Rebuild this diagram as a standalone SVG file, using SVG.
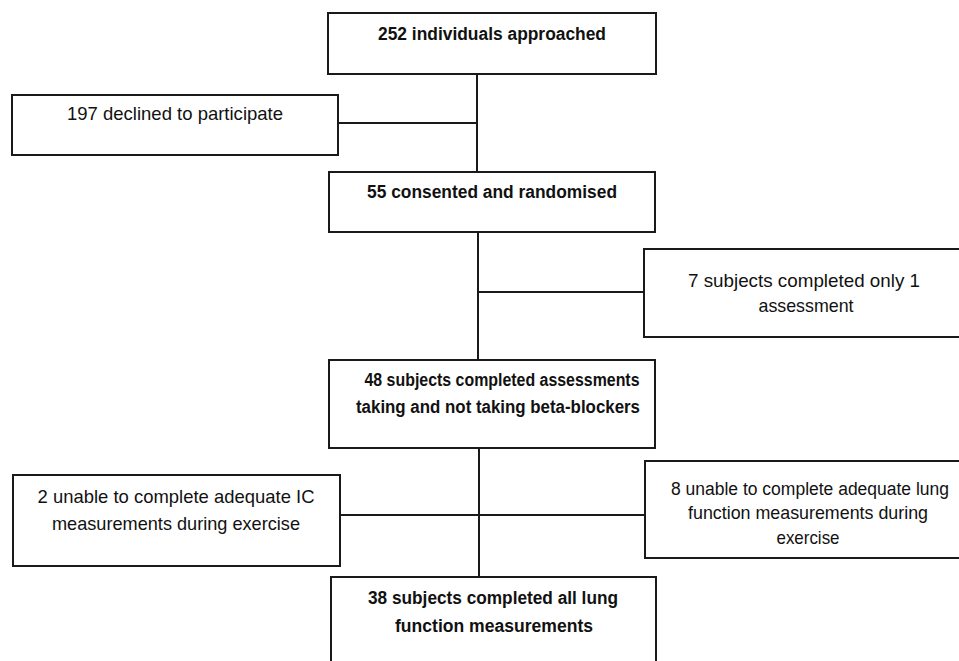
<svg xmlns="http://www.w3.org/2000/svg" width="959" height="661" viewBox="0 0 959 661">
<style>
.box{fill:#fff;stroke:#1a1a1a;stroke-width:2}
.ln{stroke:#1a1a1a;stroke-width:2;fill:none}
.b{font-family:"Liberation Sans",Arial,sans-serif;font-weight:bold;font-size:17.5px;fill:#111;text-anchor:middle}
.r{font-family:"Liberation Sans",Arial,sans-serif;font-size:19px;fill:#111;text-anchor:middle}
.r2{font-family:"Liberation Sans",Arial,sans-serif;font-size:17.6px;fill:#111;text-anchor:middle}
</style>
<rect width="959" height="661" fill="#fff"/>
<g id="connectors">
<path class="ln" d="M477 74V172"/>
<path class="ln" d="M338 123H477"/>
<path class="ln" d="M478 232V360"/>
<path class="ln" d="M478 292H644"/>
<path class="ln" d="M479 448V577"/>
<path class="ln" d="M340 515H645"/>
</g>
<g id="n1">
<rect class="box" x="328" y="13" width="328" height="61"/>
<text class="b" x="492" y="40" textLength="228" lengthAdjust="spacingAndGlyphs">252 individuals approached</text>
</g>
<g id="n2">
<rect class="box" x="12" y="95" width="326" height="60"/>
<text class="r" x="175" y="120" textLength="216" lengthAdjust="spacingAndGlyphs">197 declined to participate</text>
</g>
<g id="n3">
<rect class="box" x="329" y="172" width="326" height="60"/>
<text class="b" x="492" y="198" textLength="250" lengthAdjust="spacingAndGlyphs">55 consented and randomised</text>
</g>
<g id="n4">
<rect class="box" x="644" y="249" width="320" height="88"/>
<text class="r" x="804" y="287" textLength="232" lengthAdjust="spacingAndGlyphs">7 subjects completed only 1</text>
<text class="r" x="806" y="312" textLength="95" lengthAdjust="spacingAndGlyphs">assessment</text>
</g>
<g id="n5">
<rect class="box" x="329" y="360" width="326" height="88"/>
<text class="b" x="502" y="386" textLength="275" lengthAdjust="spacingAndGlyphs">48 subjects completed assessments</text>
<text class="b" x="498" y="413" textLength="284" lengthAdjust="spacingAndGlyphs">taking and not taking beta-blockers</text>
</g>
<g id="n6">
<rect class="box" x="13" y="475" width="327" height="91"/>
<text class="r" x="176" y="503" textLength="277" lengthAdjust="spacingAndGlyphs">2 unable to complete adequate IC</text>
<text class="r" x="176" y="530" textLength="248" lengthAdjust="spacingAndGlyphs">measurements during exercise</text>
</g>
<g id="n7">
<rect class="box" x="645" y="461" width="320" height="97"/>
<text class="r2" x="810" y="495" textLength="278" lengthAdjust="spacingAndGlyphs">8 unable to complete adequate lung</text>
<text class="r" x="808" y="519" textLength="240" lengthAdjust="spacingAndGlyphs">function measurements during</text>
<text class="r" x="808" y="544" textLength="63" lengthAdjust="spacingAndGlyphs">exercise</text>
</g>
<g id="n8">
<rect class="box" x="331" y="577" width="325" height="100"/>
<text class="b" x="493" y="604" textLength="250" lengthAdjust="spacingAndGlyphs">38 subjects completed all lung</text>
<text class="b" x="494" y="632" textLength="198" lengthAdjust="spacingAndGlyphs">function measurements</text>
</g>
</svg>
